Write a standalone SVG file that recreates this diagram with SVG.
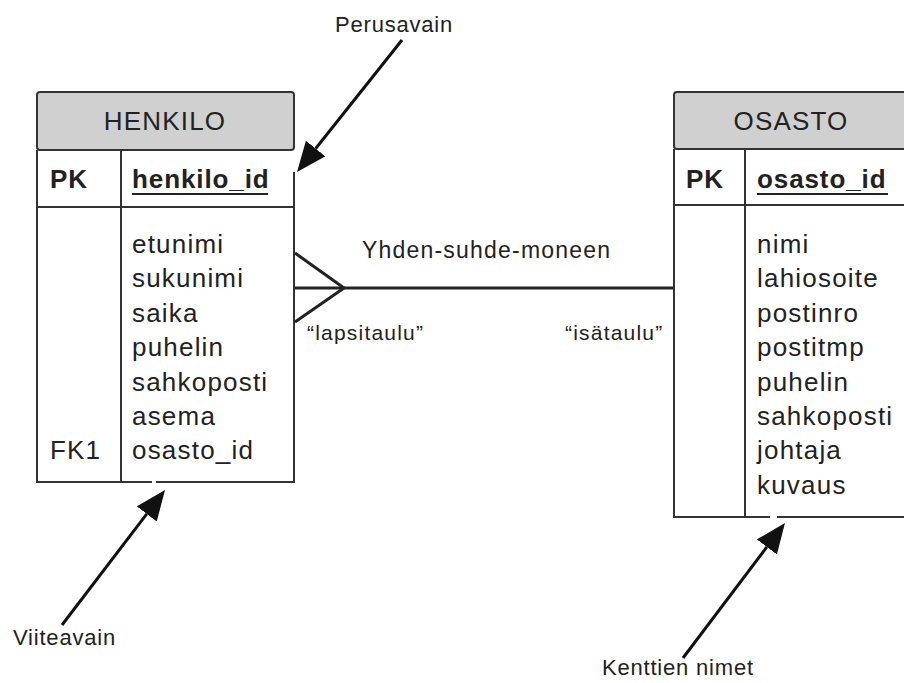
<svg xmlns="http://www.w3.org/2000/svg" width="904" height="683" viewBox="0 0 904 683">
<style>
text{font-family:"Liberation Sans",Arial,sans-serif;fill:#222}
.hdr{font-size:26px;letter-spacing:1.2px;text-anchor:middle}
.fld{font-size:26px;letter-spacing:1.2px}
.key{font-size:26px;font-weight:bold;letter-spacing:0.9px}
.ann{font-size:22px;letter-spacing:0.8px}
.rel{font-size:21px;letter-spacing:1.2px}
.line{stroke:#333;stroke-width:2;fill:none}
.hfill{fill:#d0d0d0;stroke:#333;stroke-width:2}
.arrow{stroke:#111;stroke-width:3;fill:none}
.conn{stroke:#222;stroke-width:3;fill:none}
</style>
<defs>
<marker id="ah" markerUnits="userSpaceOnUse" markerWidth="32" markerHeight="26" refX="0" refY="12.5" orient="auto">
<path d="M0,0 L30,12.5 L0,25 z" fill="#111"/>
</marker>
</defs>
<rect width="904" height="683" fill="#fff"/>

<g id="henkilo">
<rect x="37" y="150" width="257" height="332" fill="#fff" stroke="none"/>
<rect class="hfill" x="37" y="92" width="257" height="58" rx="3"/>
<path class="line" d="M37,150 V482 H152 M156,482 H294 V172 M37,207 H294 M121,150 V482"/>
<text class="hdr" x="165" y="130">HENKILO</text>
<text class="key" x="50" y="188">PK</text>
<text class="key" x="132" y="188">henkilo_id</text>
<line x1="132" y1="194" x2="268" y2="194" stroke="#222" stroke-width="2"/>
<text class="fld" x="132" y="253">etunimi</text>
<text class="fld" x="132" y="287.4">sukunimi</text>
<text class="fld" x="132" y="321.8">saika</text>
<text class="fld" x="132" y="356.2">puhelin</text>
<text class="fld" x="132" y="390.6">sahkoposti</text>
<text class="fld" x="132" y="425">asema</text>
<text class="fld" x="50" y="459.4">FK1</text>
<text class="fld" x="132" y="459.4">osasto_id</text>
</g>

<g id="osasto">
<rect x="674" y="149" width="240" height="368" fill="#fff" stroke="none"/>
<rect class="hfill" x="674" y="92" width="240" height="57" rx="3"/>
<path class="line" d="M674,149 V517 H770 M777,517 H904 M674,205 H904 M745,149 V517"/>
<text class="hdr" x="791" y="130">OSASTO</text>
<text class="key" x="686" y="188">PK</text>
<text class="key" x="757" y="188">osasto_id</text>
<line x1="757" y1="194" x2="888" y2="194" stroke="#222" stroke-width="2"/>
<text class="fld" x="757" y="253">nimi</text>
<text class="fld" x="757" y="287.4">lahiosoite</text>
<text class="fld" x="757" y="321.8">postinro</text>
<text class="fld" x="757" y="356.2">postitmp</text>
<text class="fld" x="757" y="390.6">puhelin</text>
<text class="fld" x="757" y="425">sahkoposti</text>
<text class="fld" x="757" y="459.4">johtaja</text>
<text class="fld" x="757" y="493.8">kuvaus</text>
</g>

<g id="connectors">
<path class="conn" d="M295,288 H673"/>
<path class="conn" d="M295,253 L344,288 L295,322"/>
<path class="arrow" marker-end="url(#ah)" d="M402,40 L315.7,148.5"/>
<path class="arrow" marker-end="url(#ah)" d="M62,625 L146.8,513.9"/>
<path class="arrow" marker-end="url(#ah)" d="M683,658 L766.9,546.9"/>
</g>

<g id="labels">
<text class="ann" style="font-size:23px;letter-spacing:1.2px" x="362" y="258">Yhden-suhde-moneen</text>
<text class="rel" x="307" y="340">“lapsitaulu”</text>
<text class="rel" x="565" y="340">“isätaulu”</text>
<text class="ann" x="335" y="32">Perusavain</text>
<text class="ann" x="13" y="645">Viiteavain</text>
<text class="ann" x="602" y="675">Kenttien nimet</text>
</g>
</svg>
